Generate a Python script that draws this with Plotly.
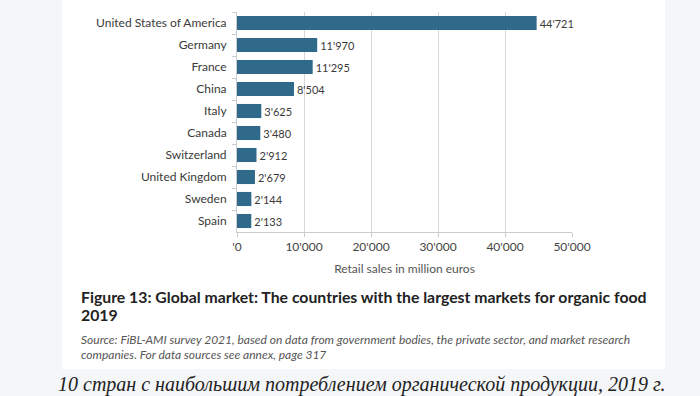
import plotly.graph_objects as go

countries = ["United States of America", "Germany", "France", "China", "Italy",
             "Canada", "Switzerland", "United Kingdom", "Sweden", "Spain"]
sales = [44721, 11970, 11295, 8504, 3625, 3480, 2912, 2679, 2144, 2133]
tick_vals = [0, 10000, 20000, 30000, 40000, 50000]
tick_text = ["'0", "10'000", "20'000", "30'000", "40'000", "50'000"]

W, H = 700, 396
L, R, T, B = 237, 128, 12, 164
pw, ph = W - L - R, H - T - B

def px(x):
    return (x - L) / pw

def py(y):
    return (H - B - y) / ph

fig = go.Figure()
fig.add_trace(go.Bar(
    x=sales, y=countries, orientation="h",
    marker=dict(color="#2f6a8b", line=dict(width=0)),
    text=sales, texttemplate="%{x:,}", textposition="outside",
    textfont=dict(family="Lato", size=11, color="#3a3a3a"),
    cliponaxis=False, hoverinfo="skip",
))

fig.update_layout(
    width=W, height=H,
    margin=dict(l=L, r=R, t=T, b=B, pad=0),
    paper_bgcolor="#f5f6f8", plot_bgcolor="rgba(0,0,0,0)",
    separators=".'",
    bargap=0.36,
    showlegend=False,
    font=dict(family="Lato", size=12, color="#3a3a3a"),
    xaxis=dict(
        range=[0, 50000], tickvals=tick_vals, ticktext=tick_text,
        showgrid=True, gridcolor="#d6d6d6", gridwidth=1,
        showline=True, linecolor="#c9ccd0", linewidth=1,
        ticks="outside", ticklen=4, tickcolor="#c9ccd0",
        tickfont=dict(family="Lato", size=12, color="#444"),
        zeroline=False,
        title=dict(text="Retail sales in million euros",
                   font=dict(family="Lato", size=12, color="#555"), standoff=11),
    ),
    yaxis=dict(
        type="category", autorange="reversed",
        tickson="boundaries", ticks="outside", ticklen=4, tickcolor="#c9ccd0",
        showline=True, linecolor="#c9ccd0", linewidth=1, showgrid=False,
        tickfont=dict(family="Lato", size=12, color="#3a3a3a"),
        ticklabelstandoff=7,
    ),
    shapes=[dict(type="rect", xref="paper", yref="paper", layer="below",
                 x0=px(62), x1=px(665), y0=py(369), y1=py(-5),
                 fillcolor="white", line=dict(width=0))],
    annotations=[
        dict(xref="paper", yref="paper", x=px(79), y=py(296), xanchor="left", yanchor="middle",
             align="left", showarrow=False,
             text="<b>Figure 13: Global market: The countries with the largest markets for organic food</b>",
             font=dict(family="Lato", size=15.8, color="#222")),
        dict(xref="paper", yref="paper", x=px(79), y=py(314), xanchor="left", yanchor="middle",
             align="left", showarrow=False,
             text="<b>2019</b>",
             font=dict(family="Lato", size=15.8, color="#222")),
        dict(xref="paper", yref="paper", x=px(79), y=py(339), xanchor="left", yanchor="middle",
             align="left", showarrow=False,
             text="<i>Source: FiBL-AMI survey 2021, based on data from government bodies, the private sector, and market research</i>",
             font=dict(family="Lato", size=12, color="#555")),
        dict(xref="paper", yref="paper", x=px(79), y=py(354), xanchor="left", yanchor="middle",
             align="left", showarrow=False,
             text="<i>companies. For data sources see annex, page 317</i>",
             font=dict(family="Lato", size=12, color="#555")),
        dict(xref="paper", yref="paper", x=px(362), y=py(384), xanchor="center", yanchor="middle",
             showarrow=False,
             text="<i>10 стран с наибольшим потреблением органической продукции, 2019 г.</i>",
             font=dict(family="Liberation Serif", size=20, color="#222")),
    ],
)

fig.write_html("out.html",
               config={"displayModeBar": False},
               post_script="document.body.style.margin='0';document.body.style.padding='0';"
                           "document.body.style.background='#f5f6f8';"
                           "document.documentElement.style.overflow='hidden';")
